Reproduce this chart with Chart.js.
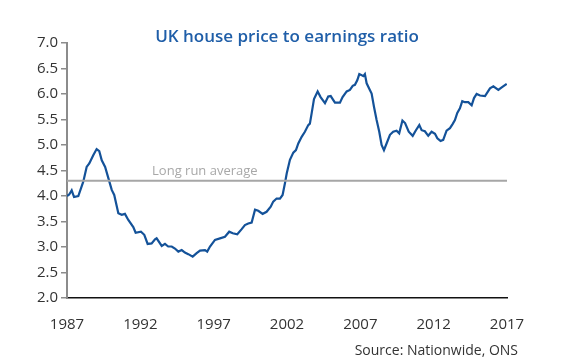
<!DOCTYPE html>
<html>
<head>
<meta charset="utf-8">
<script src="https://cdn.jsdelivr.net/npm/chart.js@4"></script>
<style>
  body { margin: 0; background: #fff; }
  #wrap { width: 561px; height: 363px; }
</style>
</head>
<body>
<div id="wrap"><canvas id="chart" width="561" height="363"></canvas></div>
<script>
// values (decimal year, ratio)
const years = [
  1987.00, 1987.15, 1987.32, 1987.48, 1987.77, 1988.11, 1988.34, 1988.52, 1988.79, 1989.02,
  1989.20, 1989.37, 1989.60, 1989.82, 1990.05, 1990.22, 1990.50, 1990.73, 1990.95, 1991.18,
  1991.52, 1991.68, 1992.04, 1992.27, 1992.50, 1992.77, 1993.00, 1993.11, 1993.46, 1993.68,
  1993.90, 1994.14, 1994.36, 1994.59, 1994.82, 1995.04, 1995.27, 1995.57, 1995.84, 1996.07,
  1996.41, 1996.56, 1996.75, 1997.09, 1997.43, 1997.77, 1998.06, 1998.30, 1998.61, 1998.91,
  1999.13, 1999.36, 1999.59, 1999.82, 2000.04, 2000.34, 2000.61, 2000.89, 2001.06, 2001.29,
  2001.52, 2001.70, 2001.86, 2001.98, 2002.20, 2002.43, 2002.61, 2002.77, 2003.00, 2003.22,
  2003.45, 2003.56, 2003.68, 2003.84, 2004.09, 2004.29, 2004.59, 2004.81, 2004.98, 2005.27,
  2005.61, 2005.79, 2006.07, 2006.29, 2006.48, 2006.63, 2006.79, 2006.93, 2007.09, 2007.20,
  2007.31, 2007.43, 2007.65, 2007.77, 2007.93, 2008.11, 2008.29, 2008.45, 2008.61, 2008.79,
  2009.02, 2009.24, 2009.47, 2009.65, 2009.87, 2010.05, 2010.30, 2010.57, 2010.79, 2011.02,
  2011.18, 2011.40, 2011.63, 2011.86, 2012.09, 2012.25, 2012.47, 2012.65, 2012.88, 2013.11,
  2013.29, 2013.45, 2013.61, 2013.79, 2013.95, 2014.13, 2014.36, 2014.59, 2014.75, 2014.93,
  2015.16, 2015.50, 2015.84, 2016.07, 2016.41, 2016.64, 2016.98
];
const ratios = [
  4.00, 4.03, 4.11, 3.98, 4.00, 4.28, 4.57, 4.64, 4.80, 4.92,
  4.88, 4.70, 4.57, 4.35, 4.12, 4.02, 3.66, 3.63, 3.65, 3.53,
  3.39, 3.28, 3.30, 3.24, 3.06, 3.07, 3.15, 3.17, 3.02, 3.06,
  3.01, 3.01, 2.97, 2.91, 2.94, 2.89, 2.86, 2.81, 2.88, 2.93,
  2.94, 2.91, 3.01, 3.14, 3.17, 3.20, 3.30, 3.27, 3.25, 3.35,
  3.43, 3.46, 3.48, 3.73, 3.71, 3.65, 3.69, 3.79, 3.89, 3.95,
  3.95, 4.02, 4.25, 4.44, 4.71, 4.85, 4.90, 5.03, 5.16, 5.26,
  5.39, 5.42, 5.62, 5.90, 6.05, 5.94, 5.82, 5.95, 5.96, 5.83,
  5.83, 5.94, 6.05, 6.08, 6.16, 6.18, 6.27, 6.39, 6.37, 6.35,
  6.39, 6.21, 6.08, 6.01, 5.75, 5.49, 5.26, 5.00, 4.90, 5.03,
  5.20, 5.26, 5.28, 5.23, 5.48, 5.43, 5.26, 5.18, 5.29, 5.39,
  5.29, 5.27, 5.18, 5.26, 5.22, 5.13, 5.08, 5.10, 5.28, 5.33,
  5.41, 5.49, 5.63, 5.72, 5.86, 5.84, 5.84, 5.78, 5.92, 6.00,
  5.97, 5.96, 6.11, 6.15, 6.08, 6.13, 6.20
];
const longRunAverage = 4.3;
const xTicks = [1987, 1992, 1997, 2002, 2007, 2012, 2017];
const yTicks = [2.0, 2.5, 3.0, 3.5, 4.0, 4.5, 5.0, 5.5, 6.0, 6.5, 7.0];

const FONT = "'Open Sans', sans-serif";
const BLUE = '#145299';

const textPlugin = {
  id: 'texts',
  afterDraw(chart) {
    const { ctx, chartArea, scales } = chart;
    ctx.save();
    // title
    ctx.fillStyle = '#1f5ea8';
    ctx.font = "600 17px " + FONT;
    ctx.textAlign = 'center';
    ctx.textBaseline = 'middle';
    ctx.fillText('UK house price to earnings ratio', (chartArea.left + chartArea.right) / 2, 37);
    // long run label
    ctx.fillStyle = '#a8a8a8';
    ctx.font = "13px " + FONT;
    ctx.textAlign = 'left';
    ctx.textBaseline = 'bottom';
    ctx.fillText('Long run average', scales.x.getPixelForValue(1992.8), scales.y.getPixelForValue(longRunAverage) - 3);
    // source
    ctx.fillStyle = '#333';
    ctx.font = "14px " + FONT;
    ctx.textAlign = 'right';
    ctx.textBaseline = 'middle';
    ctx.fillText('Source: Nationwide, ONS', 518, 351);
    ctx.restore();
  }
};

new Chart(document.getElementById('chart'), {
  type: 'line',
  data: {
    datasets: [
      {
        label: 'Long run average',
        data: [{ x: xTicks[0], y: longRunAverage }, { x: xTicks[xTicks.length - 1], y: longRunAverage }],
        borderColor: '#a6a6a6',
        borderWidth: 2,
        pointRadius: 0
      },
      {
        label: 'House price to earnings',
        data: years.map((y, i) => ({ x: y, y: ratios[i] })),
        borderColor: BLUE,
        borderWidth: 2.2,
        pointRadius: 0,
        tension: 0
      }
    ]
  },
  options: {
    responsive: false,
    animation: false,
    layout: { padding: { top: 43, right: 54, left: 0, bottom: 0 } },
    plugins: { legend: { display: false }, title: { display: false }, tooltip: { enabled: false } },
    scales: {
      x: {
        type: 'linear',
        min: 1987,
        max: 2017,
        afterBuildTicks: s => { s.ticks = xTicks.map(v => ({ value: v })); },
        afterFit: s => { s.height = 65; },
        ticks: { callback: v => String(v), color: '#333', padding: 10, maxRotation: 0, font: { family: FONT, size: 15 } },
        grid: { display: false },
        border: { color: '#111', width: 1.5 }
      },
      y: {
        min: 2,
        max: 7,
        afterBuildTicks: s => { s.ticks = yTicks.map(v => ({ value: v })); },
        afterFit: s => { s.width = 67; },
        ticks: { callback: v => v.toFixed(1), color: '#333', padding: 3, font: { family: FONT, size: 15 } },
        grid: { drawOnChartArea: false, drawTicks: true, tickLength: 6, color: '#8c8c8c', lineWidth: 1.5 },
        border: { color: '#8c8c8c', width: 2 }
      }
    }
  },
  plugins: [textPlugin]
});
</script>
</body>
</html>
